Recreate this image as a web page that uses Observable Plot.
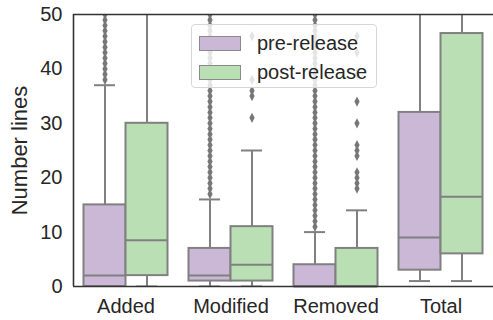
<!DOCTYPE html>
<html>
<head>
<meta charset="utf-8">
<script src="https://cdn.jsdelivr.net/npm/d3@7"></script>
<script src="https://cdn.jsdelivr.net/npm/@observablehq/plot@0.6"></script>
<style>
  html, body { margin: 0; padding: 0; background: #fff; }
  #wrap { position: relative; width: 493px; height: 320px; font-family: "Liberation Sans", Arial, sans-serif; color: #262626; }
  #legend { position: absolute; left: 191px; top: 24px; width: 186px; height: 64px; box-sizing: border-box;
    background: rgba(255,255,255,0.8); border: 1px solid #d6d6d6; border-radius: 4px; }
  .item { position: absolute; left: 7px; display: flex; align-items: center; font-size: 20px; }
  .patch { width: 42px; height: 15px; border: 1.5px solid #8a8a8a; box-sizing: border-box; margin-right: 16px; }
</style>
</head>
<body>
<div id="wrap"><div id="legend"></div></div>
<script>
// ---- data ----
const categories = ["Added", "Modified", "Removed", "Total"];
const groups = ["pre-release", "post-release"];
const groupColors = ["#cab8d6", "#bbdfb5"];

// five-number summaries (whisker low, Q1, median, Q3, whisker high)
const loPre   = [0, 0, 0, 1];
const q1Pre   = [0, 1, 0, 3];
const medPre  = [2, 2, 0, 9];
const q3Pre   = [15, 7, 4, 32];
const hiPre   = [37, 16, 10, 75];

const loPost  = [0, 0, 0, 1];
const q1Post  = [2, 1, 0, 6];
const medPost = [8.5, 4, 0, 16.5];
const q3Post  = [30, 11, 7, 46.5];
const hiPost  = [72, 25, 14, 107];

// outliers (visible part, up to 50)
const outliersPre = [
  [38,39,40,41,42,43,44,45,46,47,48,49,50],
  [17,18,19,20,21,22,23,24,25,26,27,28,29,30,31,32,33,34,35,36,37,38,39,40,41,42,43,44,45,46,47,48,49,50],
  [11,12,13,14,15,16,17,18,19,20,21,22,23,24,25,26,27,28,29,30,31,32,33,34,35,36,37,38,39,40,41,42,43,44,45,46,47,48,49,50],
  []
];
const outliersPost = [
  [],
  [31,35,36,38,46],
  [18,19,20,21,24,25,26,30,34,39,43,46],
  []
];
const yTicks = [0, 10, 20, 30, 40, 50];

// ---- build tables ----
const dodge = 0.4;
const boxes = categories.flatMap((c, i) => [
  {i, g: 0, group: groups[0], lo: loPre[i], q1: q1Pre[i], med: medPre[i], q3: q3Pre[i], hi: hiPre[i]},
  {i, g: 1, group: groups[1], lo: loPost[i], q1: q1Post[i], med: medPost[i], q3: q3Post[i], hi: hiPost[i]}
]);
boxes.forEach(d => {
  d.x1 = d.i - dodge + d.g * dodge;
  d.x2 = d.x1 + dodge;
  d.cx = (d.x1 + d.x2) / 2;
  d.c1 = d.cx - dodge / 4;
  d.c2 = d.cx + dodge / 4;
});
const fliers = [];
categories.forEach((c, i) => {
  [outliersPre[i], outliersPost[i]].forEach((vals, g) => {
    const b = boxes.find(d => d.i === i && d.g === g);
    vals.forEach(v => fliers.push({x: b.cx, y: v}));
  });
});

const thinDiamond = {
  draw(ctx, size) {
    const h = Math.sqrt(size) * 0.9;
    const w = h * 0.52;
    ctx.moveTo(0, -h); ctx.lineTo(w, 0); ctx.lineTo(0, h); ctx.lineTo(-w, 0); ctx.closePath();
  }
};

const gray = "#808080";
const spine = "#333333";

const plot = Plot.plot({
  width: 493,
  height: 320,
  marginLeft: 73,
  marginRight: 0,
  marginTop: 14,
  marginBottom: 34,
  style: {fontFamily: "'Liberation Sans', Arial, sans-serif", fontSize: "20px", color: "#262626", background: "transparent"},
  x: {domain: [-0.5, categories.length - 0.5], label: null},
  y: {domain: [0, 50], label: null},
  color: {domain: groups, range: groupColors},
  marks: [
    Plot.ruleX(boxes, {x: "cx", y1: "q3", y2: "hi", stroke: gray, strokeWidth: 2, clip: true}),
    Plot.ruleX(boxes, {x: "cx", y1: "lo", y2: "q1", stroke: gray, strokeWidth: 2, clip: true}),
    Plot.ruleY(boxes, {y: "hi", x1: "c1", x2: "c2", stroke: gray, strokeWidth: 2, clip: true}),
    Plot.ruleY(boxes, {y: "lo", x1: "c1", x2: "c2", stroke: gray, strokeWidth: 2, clip: true}),
    Plot.rect(boxes, {x1: "x1", x2: "x2", y1: "q1", y2: "q3", fill: "group", stroke: gray, strokeWidth: 2}),
    Plot.ruleY(boxes, {y: "med", x1: "x1", x2: "x2", stroke: gray, strokeWidth: 2}),
    Plot.dot(fliers, {x: "x", y: "y", symbol: thinDiamond, r: 3.2, fill: "#777777", stroke: "none", clip: true}),
    Plot.ruleX([-0.5], {stroke: spine, strokeWidth: 1.6}),
    Plot.ruleY([0], {stroke: spine, strokeWidth: 1.6}),
    Plot.ruleY([50], {stroke: spine, strokeWidth: 1.6}),
    Plot.axisY({ticks: yTicks, tickSize: 0, tickPadding: 11, label: null, fontSize: 20}),
    Plot.axisY({ticks: [], tickSize: 0, label: "Number lines", labelAnchor: "center", labelArrow: "none", labelOffset: 62, fontSize: 22}),
    Plot.axisX({ticks: [0, 1, 2, 3], tickFormat: i => categories[i], tickSize: 0, tickPadding: 12, label: null, fontSize: 20})
  ]
});

const wrap = document.getElementById("wrap");
wrap.insertBefore(plot, wrap.firstChild);

const legend = document.getElementById("legend");
groups.forEach((g, k) => {
  const item = document.createElement("div");
  item.className = "item";
  item.style.top = (k === 0 ? 7 : 36) + "px";
  const patch = document.createElement("div");
  patch.className = "patch";
  patch.style.background = groupColors[k];
  const label = document.createElement("span");
  label.textContent = g;
  item.appendChild(patch);
  item.appendChild(label);
  legend.appendChild(item);
});
</script>
</body>
</html>
